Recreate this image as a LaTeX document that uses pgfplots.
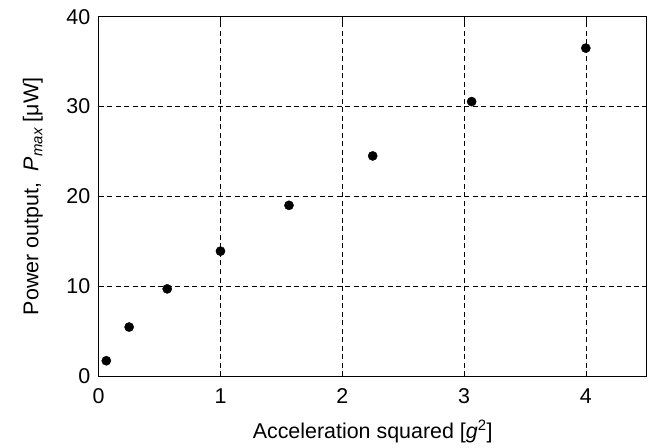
\documentclass[border=0pt]{standalone}
\usepackage{pgfplots}
\pgfplotsset{compat=1.18}
\usepackage{fontspec}
\setmainfont{Liberation Sans}
\setsansfont{Liberation Sans}
\begin{document}
\begin{tikzpicture}
\begin{axis}[
  scale only axis,
  width=548bp, height=359.3bp,
  xmin=0, xmax=4.5, ymin=0, ymax=40,
  xtick={0,1,2,3,4}, ytick={0,10,20,30,40},
  tick align=inside, major tick length=5bp,
  axis line style={line width=0.8pt},
  tick style={black, line width=0.6pt},
  grid=major,
  major grid style={black, line width=0.5pt, dash pattern=on 5bp off 3.5bp},
  tick label style={font=\fontsize{21.5}{25}\selectfont},
  label style={font=\fontsize{21.5}{25}\selectfont},
  /pgf/number format/assume math mode=true,
  xlabel={Acceleration squared [\textit{g}\textsuperscript{2}]},
  ylabel={Power output,\ \ \textit{P}\raisebox{-0.35ex}{\fontsize{15}{17}\selectfont\textit{max}} [μW]},
  xlabel style={at={(axis description cs:0.5,-0.1726)}, anchor=base},
  ylabel style={at={(axis description cs:-0.12,0.5)}, anchor=center},
  yticklabel style={xshift=-5bp},
  xticklabel style={yshift=-9bp},
]
\addplot[only marks, mark=*, mark size=4.6bp, black] coordinates {
(0.0625,1.7) (0.25,5.45) (0.5625,9.7) (1,13.9) (1.5625,19.0) (2.25,24.5) (3.0625,30.55) (4,36.5)
};
\end{axis}
\pgfresetboundingbox
\path (-98.7bp,-72bp) rectangle (555.3bp,376bp);
\end{tikzpicture}
\end{document}
